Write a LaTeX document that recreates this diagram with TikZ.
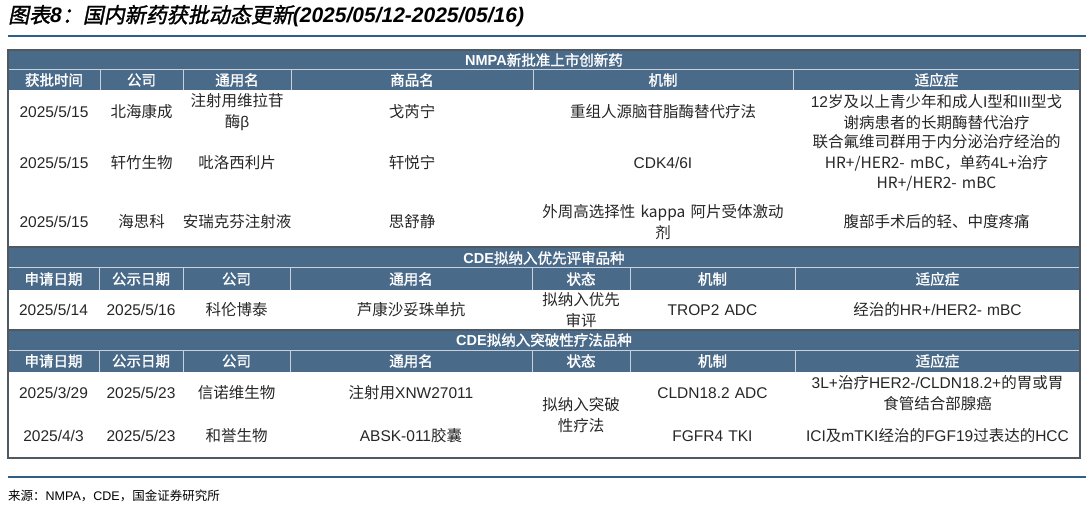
\documentclass[tikz,border=0pt]{standalone}
\usepackage{fontspec}
\setmainfont{Liberation Sans}
\newfontfamily\cjkfont{Noto Sans CJK SC}[AutoFakeSlant=0.2,AutoFakeBold=1.5]
\XeTeXinterchartokenstate=1
\newXeTeXintercharclass\cjkclass
\count255="4E00
\loop\XeTeXcharclass\count255=\cjkclass\advance\count255 1\ifnum\count255<"A000\repeat
\XeTeXcharclass"FF1A=\cjkclass \XeTeXcharclass"FF0C=\cjkclass \XeTeXcharclass"3001=\cjkclass
\XeTeXinterchartoks 0 \cjkclass={\cjkfont}
\XeTeXinterchartoks 4095 \cjkclass={\cjkfont}
\XeTeXinterchartoks \cjkclass 0={\rmfamily}
\definecolor{hdr}{HTML}{4A6A8A}
\definecolor{bord}{HTML}{505860}
\definecolor{rule}{HTML}{2F5F86}
\tikzset{txt/.style={align=center,inner sep=0pt,font=\fontsize{15.5}{20.5}\selectfont,text=black!85},
 htxt/.style={txt,text=white,font=\fontsize{14.5}{16}\selectfont\bfseries}}
\newcommand\tc[4]{\node[txt,text width=#3] at (#1,#2) {#4};}
\newcommand\hc[4]{\node[htxt,text width=#3] at (#1,#2) {#4};}
\begin{document}
\begin{tikzpicture}[x=1pt,y=-1pt]
\useasboundingbox (0,0) rectangle (1086,510);
\node[anchor=west,inner sep=0pt,font=\fontsize{21}{24}\selectfont\bfseries\itshape,text=black] (title) at (8,16) {图表8：国内新药获批动态更新(2025/05/12-2025/05/16)};
\draw[rule,line width=1.2pt] (8,36) -- (1086,36);
\foreach \a/\b in {50/70,70/90,248/268,268/290,330/350,350/372}{\fill[hdr] (8,\a) rectangle (1080,\b);}
\draw[white!70!hdr,line width=1pt] (8,70)--(1080,70) (8,268)--(1080,268) (8,350)--(1080,350);
\foreach \x in {100,183,291,533,793}{\draw[white!70!hdr,line width=1pt] (\x,70)--(\x,90);}
\foreach \x in {99,183,290,532,630,795}{\draw[white!70!hdr,line width=1pt] (\x,268)--(\x,290) (\x,350)--(\x,372);}
\draw[bord,line width=1.2pt] (8,50) rectangle (1080,458);
\draw[bord,line width=1.2pt] (8,247)--(1080,247) (8,330)--(1080,330);
% NMPA
\hc{544}{60}{400pt}{NMPA新批准上市创新药}
\hc{54}{80}{90pt}{获批时间}\hc{141.5}{80}{80pt}{公司}\hc{237}{80}{100pt}{通用名}
\hc{412}{80}{200pt}{商品名}\hc{663}{80}{200pt}{机制}\hc{936.5}{80}{250pt}{适应症}
\tc{54}{112}{92pt}{2025/5/15}\tc{141.5}{112}{83pt}{北海康成}\tc{237}{112}{110pt}{注射用维拉苷\\酶β}
\tc{412}{112}{200pt}{戈芮宁}\tc{663}{112}{270pt}{重组人源脑苷脂酶替代疗法}
\tc{936.5}{112}{320pt}{12岁及以上青少年和成人I型和III型戈\\谢病患者的长期酶替代治疗}
\tc{54}{163}{92pt}{2025/5/15}\tc{141.5}{163}{83pt}{轩竹生物}\tc{237}{163}{110pt}{吡洛西利片}
\tc{412}{163}{200pt}{轩悦宁}\tc{663}{163}{250pt}{CDK4/6I}
\tc{936.5}{163}{320pt}{联合氟维司群用于内分泌治疗经治的\\HR+/HER2- mBC，单药4L+治疗\\HR+/HER2- mBC}
\tc{54}{222}{92pt}{2025/5/15}\tc{141.5}{222}{83pt}{海思科}\tc{237}{222}{120pt}{安瑞克芬注射液}
\tc{412}{222}{200pt}{思舒静}\tc{663}{222}{290pt}{外周高选择性 kappa 阿片受体激动\\剂}
\tc{936.5}{222}{285pt}{腹部手术后的轻、中度疼痛}
% CDE 1
\hc{544}{258}{400pt}{CDE拟纳入优先评审品种}
\foreach \h in {279,361}{
\hc{53.5}{\h}{90pt}{申请日期}\hc{141}{\h}{84pt}{公示日期}\hc{236.5}{\h}{100pt}{公司}
\hc{411}{\h}{200pt}{通用名}\hc{581}{\h}{96pt}{状态}\hc{712.5}{\h}{160pt}{机制}\hc{937.5}{\h}{280pt}{适应症}}
\tc{53.5}{310}{90pt}{2025/5/14}\tc{141}{310}{84pt}{2025/5/16}\tc{236.5}{310}{100pt}{科伦博泰}
\tc{411}{310}{240pt}{芦康沙妥珠单抗}\tc{581}{310}{110pt}{拟纳入优先\\审评}\tc{712.5}{310}{160pt}{TROP2 ADC}
\tc{937.5}{310}{280pt}{经治的HR+/HER2- mBC}
% CDE 2
\hc{544}{340}{400pt}{CDE拟纳入突破性疗法品种}
\tc{53.5}{393}{90pt}{2025/3/29}\tc{141}{393}{84pt}{2025/5/23}\tc{236.5}{393}{100pt}{信诺维生物}
\tc{411}{393}{240pt}{注射用XNW27011}\tc{712.5}{393}{160pt}{CLDN18.2 ADC}
\tc{937.5}{393}{320pt}{3L+治疗HER2-/CLDN18.2+的胃或胃\\食管结合部腺癌}
\tc{53.5}{436}{90pt}{2025/4/3}\tc{141}{436}{84pt}{2025/5/23}\tc{236.5}{436}{100pt}{和誉生物}
\tc{411}{436}{240pt}{ABSK-011胶囊}\tc{712.5}{436}{160pt}{FGFR4 TKI}
\tc{937.5}{436}{340pt}{ICI及mTKI经治的FGF19过表达的HCC}
\tc{581}{415}{110pt}{拟纳入突破\\性疗法}
\draw[rule,line width=1.2pt] (8,477) -- (1086,477);
\node[anchor=west,inner sep=0pt,font=\fontsize{12.5}{14}\selectfont,text=black] (src) at (8,496) {来源：NMPA，CDE，国金证券研究所};
\end{tikzpicture}
\end{document}
